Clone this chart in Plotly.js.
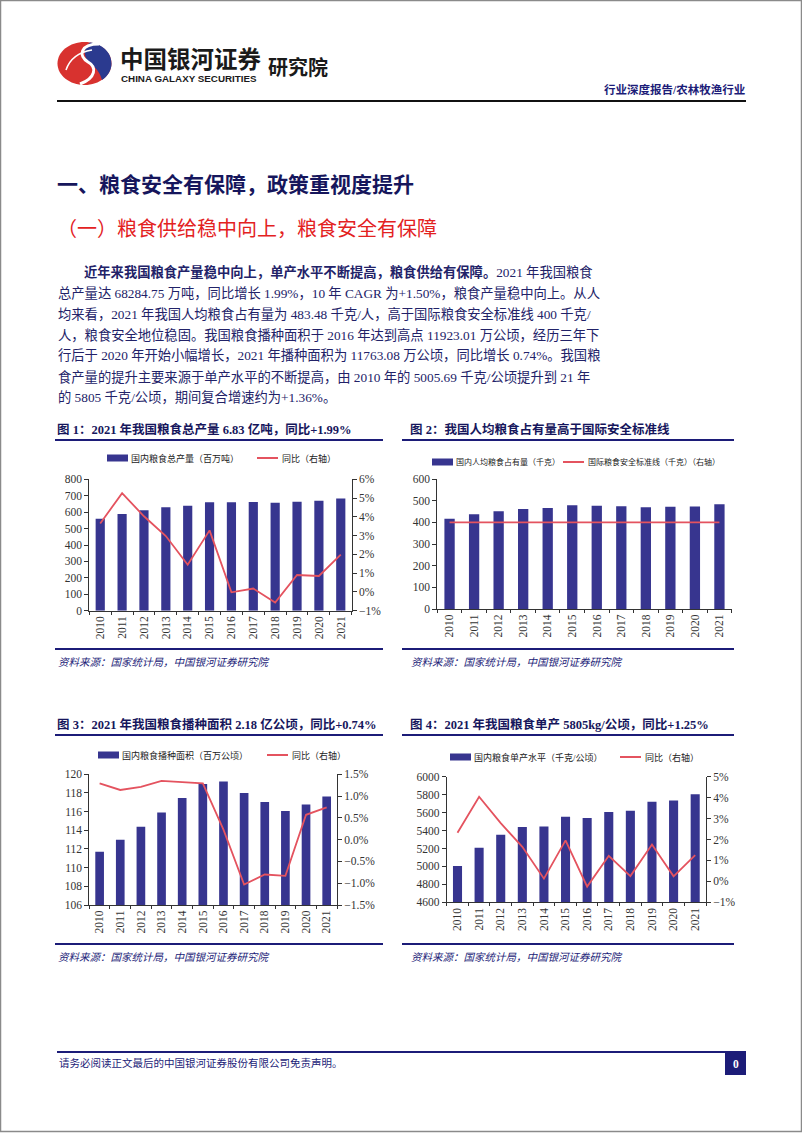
<!DOCTYPE html>
<html><head><meta charset="utf-8">
<script src="https://cdn.plot.ly/plotly-3.0.1.min.js"></script>
<style>html,body{margin:0;padding:0;background:#fff}#page{width:802px;height:1133px}</style>
</head><body><div id="page"></div>
<script>
// ---------- data ----------
const years = ['2010','2011','2012','2013','2014','2015','2016','2017','2018','2019','2020','2021'];
// Fig 1: national grain output (million tonnes) and YoY (%)
const grainOutput = [559.1, 588.5, 612.2, 630.5, 639.7, 660.6, 660.4, 661.6, 657.9, 663.8, 669.5, 682.8];
const grainOutputYoY = [3.65, 5.26, 4.03, 2.98, 1.45, 3.28, -0.02, 0.18, -0.56, 0.90, 0.85, 1.99];
// Fig 2: per-capita grain (kg) and international safety line (kg)
const perCapitaGrain = [417, 437, 451, 462, 466, 479, 476, 474, 470, 472, 473, 483.48];
const safetyLine = [400, 400, 400, 400, 400, 400, 400, 400, 400, 400, 400, 400];
// Fig 3: sown area (million ha) and YoY (%)
const sownArea = [111.70, 112.98, 114.37, 115.91, 117.45, 118.96, 119.23, 117.99, 117.04, 116.06, 116.77, 117.63];
const sownAreaYoY = [1.29, 1.14, 1.21, 1.35, 1.32, 1.29, 0.23, -1.03, -0.80, -0.83, 0.57, 0.74];
// Fig 4: yield (kg/ha) and YoY (%)
const grainYield = [5005.69, 5208, 5353, 5439, 5446, 5553, 5539, 5607, 5621, 5720, 5734, 5805];
const grainYieldYoY = [2.32, 4.04, 2.78, 1.65, 0.13, 1.96, -0.25, 1.22, 0.25, 1.76, 0.24, 1.25];

const legend1 = ['国内粮食总产量（百万吨）', '同比（右轴）'];
const legend2 = ['国内人均粮食占有量（千克）', '国际粮食安全标准线（千克）（右轴）'];
const legend3 = ['国内粮食播种面积（百万公顷）', '同比（右轴）'];
const legend4 = ['国内粮食单产水平（千克/公顷）', '同比（右轴）'];

const paragraph = [
  '<b>近年来我国粮食产量稳中向上，单产水平不断提高，粮食供给有保障。</b>2021 年我国粮食',
  '总产量达 68284.75 万吨，同比增长 1.99%，10 年 CAGR 为+1.50%，粮食产量稳中向上。从人',
  '均来看，2021 年我国人均粮食占有量为 483.48 千克/人，高于国际粮食安全标准线 400 千克/',
  '人，粮食安全地位稳固。我国粮食播种面积于 2016 年达到高点 11923.01 万公顷，经历三年下',
  '行后于 2020 年开始小幅增长，2021 年播种面积为 11763.08 万公顷，同比增长 0.74%。我国粮',
  '食产量的提升主要来源于单产水平的不断提高，由 2010 年的 5005.69 千克/公顷提升到 21 年',
  '的 5805 千克/公顷，期间复合增速约为+1.36%。'
];

// ---------- style ----------
const W = 802, H = 1133;
const BAR = '#37358f', RED = '#e4535f', NAVY = '#1c1c78', TXT = '#222268';
const SERIF = '"Liberation Serif","Noto Sans CJK SC",serif';
const SANS = '"Noto Sans CJK SC","Liberation Sans",sans-serif';
const tickFont = {family: SERIF, size: 11.5, color: '#333'};
function xd(a, b) { return [a / W, b / W]; }
function yd(t, b) { return [1 - b / H, 1 - t / H]; }
function catAxis(dom, anchor) {
  return {domain: dom, anchor: anchor, type: 'category', showline: true, linecolor: '#333', linewidth: 1,
    ticks: 'outside', ticklen: 3, tickcolor: '#333', tickson: 'boundaries', tickangle: -90,
    tickfont: tickFont, showgrid: false, zeroline: false, fixedrange: true};
}
function valAxis(dom, anchor, range, dtick, side) {
  return {domain: dom, anchor: anchor, range: range, dtick: dtick, tick0: range[0], side: side,
    showline: true, linecolor: '#333', linewidth: 1, ticks: 'outside', ticklen: 4, tickcolor: '#333',
    tickfont: tickFont, showgrid: false, zeroline: false, fixedrange: true};
}
function bar(y, xa, ya) {
  return {type: 'bar', x: years, y: y, xaxis: xa, yaxis: ya, width: 0.42,
    marker: {color: BAR, line: {width: 0}}, hoverinfo: 'skip', showlegend: false};
}
function line(y, xa, ya) {
  return {type: 'scatter', mode: 'lines', x: years, y: y, xaxis: xa, yaxis: ya,
    line: {color: RED, width: 1.8}, hoverinfo: 'skip', showlegend: false, cliponaxis: false};
}

const traces = [
  bar(grainOutput, 'x', 'y'), line(grainOutputYoY, 'x', 'y2'),
  bar(perCapitaGrain, 'x2', 'y3'), line(safetyLine, 'x2', 'y3'),
  bar(sownArea, 'x3', 'y4'), line(sownAreaYoY, 'x3', 'y5'),
  bar(grainYield, 'x4', 'y6'), line(grainYieldYoY, 'x4', 'y7'),
  {type: 'scatter', x: [], y: [], xaxis: 'x5', yaxis: 'y8', hoverinfo: 'skip', showlegend: false}
];

// ---------- page decorations ----------
const shapes = [], annotations = [];
function P(o) { return Object.assign({xref: 'x5', yref: 'y8'}, o); }
function hline(y, x0, x1, color, w) { shapes.push(P({type: 'line', x0: x0, x1: x1, y0: y, y1: y, line: {color: color, width: w}})); }
function txt(x, y, text, size, color, extra) {
  annotations.push(P(Object.assign({x: x, y: y, text: text, showarrow: false, xanchor: 'left', yanchor: 'middle',
    font: {family: SERIF, size: size, color: color}, borderpad: 0}, extra || {})));
}

// page frame
shapes.push(P({type: 'rect', x0: 0.5, x1: 801.5, y0: 0.5, y1: 1131.5, line: {color: '#8a8a8a', width: 1.5}}));

// logo
shapes.push(P({type: 'path', path: 'M 57.5,63.5 C 57.5,51.6 69.6,42 84.5,42 C 99.4,42 111.5,51.6 111.5,63.5 C 111.5,75.4 99.4,85 84.5,85 C 69.6,85 57.5,75.4 57.5,63.5 Z',
  fillcolor: '#d8322f', line: {width: 0}}));
shapes.push(P({type: 'path', path: 'M 90,42.5 C 102,44 111.5,52 111.5,63.5 C 111.5,70 108,76 102,80 C 100,72 95,67 90,63 C 84,58 82,49 90,42.5 Z',
  fillcolor: '#2b3a8f', line: {width: 0}}));
shapes.push(P({type: 'path', path: 'M 99,44 C 80,44 78,56 88,62 C 97,67 96,78 80,84',
  line: {color: '#ffffff', width: 3}}));
shapes.push(P({type: 'path', path: 'M 66,70 C 70,58 80,52 92,50',
  line: {color: '#ffffff', width: 1.5}}));

txt(119, 58, '<b>中国银河证券</b>', 23, '#1a1a1a', {font: {family: SANS, size: 23.5, color: '#1a1a1a'}});
txt(120, 78.5, '<b>CHINA GALAXY SECURITIES</b>', 9.6, '#1a1a1a', {font: {family: '"Liberation Sans",sans-serif', size: 9.8, color: '#1a1a1a'}});
txt(267, 66, '<b>研究院</b>', 20, '#1a1a1a', {font: {family: SANS, size: 20, color: '#1a1a1a'}});
txt(746, 89, '<b>行业深度报告/农林牧渔行业</b>', 11.5, NAVY, {xanchor: 'right'});
hline(101, 57, 746, '#111', 2);

// headings + paragraph
txt(56, 185, '<b>一、粮食安全有保障，政策重视度提升</b>', 21, '#16165c');
txt(56, 229, '（一）粮食供给稳中向上，粮食安全有保障', 20, '#e3221f');
paragraph.forEach(function (s, i) { txt(i === 0 ? 83 : 57, 271.5 + 21 * i, s, 13.3, TXT); });

// chart frames: titles, rules, legends, sources
function chartFrame(x0, x1, tx, ty, title, legend, lg) {
  txt(tx, ty, '<b>' + title + '</b>', 12.5, '#16165c');
  hline(ty + 11, x0, x1, NAVY, 2);
  hline(ty + 220, x0, x1, NAVY, 2);
  txt(tx + 1, ty + 233, '<i>资料来源：国家统计局，中国银河证券研究院</i>', 10.5, NAVY);
  shapes.push(P({type: 'rect', x0: lg.b0, x1: lg.b0 + 21, y0: lg.y - 3.5, y1: lg.y + 3.5, fillcolor: BAR, line: {width: 0}}));
  txt(lg.b0 + 23, lg.y, legend[0], lg.fs, '#222');
  shapes.push(P({type: 'line', x0: lg.l0, x1: lg.l0 + 21, y0: lg.y, y1: lg.y, line: {color: RED, width: 2}}));
  txt(lg.l0 + 24, lg.y, legend[1], lg.fs, '#222');
}
chartFrame(55, 383, 56, 429, '图 1：2021 年我国粮食总产量 6.83 亿吨，同比+1.99%', legend1, {y: 458, b0: 107, l0: 257, fs: 9});
chartFrame(402, 734, 409, 429, '图 2：我国人均粮食占有量高于国际安全标准线', legend2, {y: 462, b0: 432, l0: 563, fs: 8});
chartFrame(55, 383, 56, 724, '图 3：2021 年我国粮食播种面积 2.18 亿公顷，同比+0.74%', legend3, {y: 755, b0: 98, l0: 267, fs: 9});
chartFrame(402, 734, 409, 724, '图 4：2021 年我国粮食单产 5805kg/公顷，同比+1.25%', legend4, {y: 757, b0: 450, l0: 620, fs: 9});

// footer
hline(1052, 57, 746, NAVY, 2);
txt(58, 1063, '请务必阅读正文最后的中国银河证券股份有限公司免责声明。', 10.5, NAVY);
shapes.push(P({type: 'rect', x0: 725, x1: 746, y0: 1052, y1: 1075, fillcolor: NAVY, line: {width: 0}}));
txt(735.5, 1064, '<b>0</b>', 11.5, '#fff', {xanchor: 'center'});

const y2 = valAxis(yd(479.3, 610.7), 'x', [-1, 6], 1, 'right'); y2.overlaying = 'y'; y2.ticksuffix = '%';
const y5 = valAxis(yd(774.3, 905), 'x3', [-1.5, 1.5], 0.5, 'right'); y5.overlaying = 'y4'; y5.ticksuffix = '%'; y5.tickformat = '.1f';
const y7 = valAxis(yd(776.7, 902.3), 'x4', [-1, 5], 1, 'right'); y7.overlaying = 'y6'; y7.ticksuffix = '%';

const layout = {
  width: W, height: H, autosize: false, margin: {l: 0, r: 0, t: 0, b: 0, pad: 0},
  paper_bgcolor: '#fff', plot_bgcolor: 'rgba(0,0,0,0)', showlegend: false,
  font: {family: SERIF, color: '#333'},
  xaxis: catAxis(xd(89.3, 351.7), 'y'),
  yaxis: valAxis(yd(479.3, 610.7), 'x', [0, 800], 100, 'left'),
  yaxis2: y2,
  xaxis2: catAxis(xd(437.3, 731.7), 'y3'),
  yaxis3: valAxis(yd(479, 609), 'x2', [0, 600], 100, 'left'),
  xaxis3: catAxis(xd(89.3, 337), 'y4'),
  yaxis4: valAxis(yd(774.3, 905), 'x3', [106, 120], 2, 'left'),
  yaxis5: y5,
  xaxis4: catAxis(xd(446.7, 706), 'y6'),
  yaxis6: valAxis(yd(776.7, 902.3), 'x4', [4600, 6000], 200, 'left'),
  yaxis7: y7,
  xaxis5: {domain: [0, 1], range: [0, W], visible: false, fixedrange: true, anchor: 'y8'},
  yaxis8: {domain: [0, 1], range: [H, 0], visible: false, fixedrange: true, anchor: 'x5'},
  shapes: shapes, annotations: annotations
};
Plotly.newPlot('page', traces, layout, {staticPlot: true, displayModeBar: false});
</script></body></html>
